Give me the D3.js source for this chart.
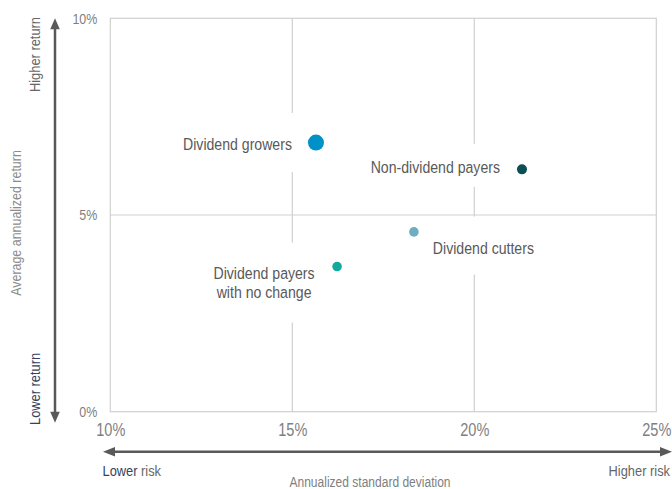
<!DOCTYPE html>
<html>
<head>
<meta charset="utf-8">
<script src="https://cdn.jsdelivr.net/npm/d3@7"></script>
<style>
  html, body { margin: 0; padding: 0; background: #fff; }
  svg { display: block; }
  text { font-family: "Liberation Sans", Arial, sans-serif; }
</style>
</head>
<body>
<svg id="chart" width="672" height="489"></svg>
<script>
// ---- data ----
const categories = ["Dividend growers", "Non-dividend payers", "Dividend cutters", "Dividend payers with no change"];
const riskValues = [15.65, 21.31, 18.34, 16.23];   // annualized standard deviation (%)
const returnValues = [6.84, 6.16, 4.57, 3.69];     // average annualized return (%)
const xTicks = [10, 15, 20, 25];
const yTicks = [0, 5, 10];
const xTickLabels = ["10%", "15%", "20%", "25%"];
const yTickLabels = ["0%", "5%", "10%"];

// ---- style ----
const pointColors = ["#0091c8", "#0b4e54", "#6eaec0", "#14a99c"];
const pointRadii = [8, 5, 4.8, 4.8];
// label layout: anchor, offset from point, line list, background padding
const labelLayout = [
  { anchor: "end",    dx: -24, dy: 1.5,  lines: ["Dividend growers"], padT: 22, padB: 18 },
  { anchor: "end",    dx: -22, dy: -2.5, lines: ["Non-dividend payers"], padT: 14, padB: 10 },
  { anchor: "start",  dx: 19,  dy: 15.7, lines: ["Dividend cutters"], padT: 22, padB: 17 },
  { anchor: "middle", dx: -73, dy: 7,    lines: ["Dividend payers", "with no change"], padT: 22, padB: 20 }
];
const F = 0.83; // horizontal condensing to emulate a narrow typeface

// condense a text horizontally around its anchor x (works inside any existing transform)
function condense(sel) {
  sel.each(function () {
    const first = this.querySelector("tspan[x]");
    const ax = +(this.getAttribute("x") || (first ? first.getAttribute("x") : 0) || 0);
    const prev = this.getAttribute("transform") || "";
    this.setAttribute("transform", `${prev} translate(${ax * (1 - F)},0) scale(${F},1)`.trim());
    this.__ax = ax;
  });
}

const W = 672, H = 489;
const margin = { left: 110.3, right: 15.7, top: 18.3, bottom: 77.3 };
const svg = d3.select("#chart");

const x = d3.scaleLinear().domain([10, 25]).range([margin.left, W - margin.right]);
const y = d3.scaleLinear().domain([0, 10]).range([H - margin.bottom, margin.top]);

const gridColor = "#d0d0d0";

// plot border
svg.append("rect")
  .attr("x", x(10)).attr("y", y(10))
  .attr("width", x(25) - x(10)).attr("height", y(0) - y(10))
  .attr("fill", "none").attr("stroke", gridColor).attr("stroke-width", 1.2);

// grid lines
svg.append("g").selectAll("line.v").data(xTicks.slice(1, -1)).join("line")
  .attr("x1", d => x(d)).attr("x2", d => x(d))
  .attr("y1", y(10)).attr("y2", y(0))
  .attr("stroke", gridColor).attr("stroke-width", 1.2);
svg.append("g").selectAll("line.h").data(yTicks.slice(1, -1)).join("line")
  .attr("x1", x(10)).attr("x2", x(25))
  .attr("y1", d => y(d)).attr("y2", d => y(d))
  .attr("stroke", gridColor).attr("stroke-width", 1.2);

// axes (tick labels only)
const yAxis = svg.append("g").attr("transform", `translate(${x(10)},0)`)
  .call(d3.axisLeft(y).tickValues(yTicks).tickFormat((d, i) => yTickLabels[i]).tickSize(0).tickPadding(13));
yAxis.select(".domain").remove();
yAxis.selectAll("text").attr("fill", "#7f7f7f").style("font-size", "15px").call(condense);

const xAxis = svg.append("g").attr("transform", `translate(0,${y(0)})`)
  .call(d3.axisBottom(x).tickValues(xTicks).tickFormat((d, i) => xTickLabels[i]).tickSize(0).tickPadding(12));
xAxis.select(".domain").remove();
xAxis.selectAll("text").attr("fill", "#7f7f7f").style("font-size", "17.5px").call(condense);

// labels with white background boxes
const fontSize = 17, lineH = 19;
const labelsG = svg.append("g");
categories.forEach((c, i) => {
  const L = labelLayout[i];
  const px = x(riskValues[i]), py = y(returnValues[i]);
  const g = labelsG.append("g");
  const rect = g.append("rect").attr("fill", "#fff");
  const t = g.append("text")
    .attr("text-anchor", L.anchor)
    .attr("fill", "#595959")
    .style("font-size", fontSize + "px");
  L.lines.forEach((ln, k) => {
    t.append("tspan")
      .attr("x", px + L.dx)
      .attr("y", py + L.dy + k * lineH)
      .attr("dy", "0.35em")
      .text(ln);
  });
  const bb = t.node().getBBox();   // before condensing (local coords)
  condense(t);
  const ax = px + L.dx;
  const bx = ax + (bb.x - ax) * F, bw = bb.width * F;
  rect.attr("x", bx - 6).attr("y", bb.y - L.padT)
    .attr("width", bw + 12).attr("height", bb.height + L.padT + L.padB);
});

// points
svg.append("g").selectAll("circle").data(categories).join("circle")
  .attr("cx", (d, i) => x(riskValues[i]))
  .attr("cy", (d, i) => y(returnValues[i]))
  .attr("r", (d, i) => pointRadii[i])
  .attr("fill", (d, i) => pointColors[i]);

// ---- direction arrows ----
const arrowColor = "#595959";
// vertical
const ax = 55, ayTop = y(10), ayBot = y(0) + 11;
svg.append("line").attr("x1", ax).attr("x2", ax).attr("y1", ayTop + 6).attr("y2", ayBot - 6)
  .attr("stroke", arrowColor).attr("stroke-width", 2.5);
svg.append("path").attr("d", `M${ax},${ayTop} L${ax - 4.8},${ayTop + 11} L${ax + 4.8},${ayTop + 11} Z`).attr("fill", arrowColor);
svg.append("path").attr("d", `M${ax},${ayBot} L${ax - 4.8},${ayBot - 11} L${ax + 4.8},${ayBot - 11} Z`).attr("fill", arrowColor);
// horizontal
const hy = 451.7, hxL = 103, hxR = 672;
svg.append("line").attr("x1", hxL + 6).attr("x2", hxR - 6).attr("y1", hy).attr("y2", hy)
  .attr("stroke", arrowColor).attr("stroke-width", 2.5);
svg.append("path").attr("d", `M${hxL},${hy} L${hxL + 12},${hy - 4.8} L${hxL + 12},${hy + 4.8} Z`).attr("fill", arrowColor);
svg.append("path").attr("d", `M${hxR},${hy} L${hxR - 12},${hy - 4.8} L${hxR - 12},${hy + 4.8} Z`).attr("fill", arrowColor);

// ---- axis titles ----
const navy = "#34435e";
const titles = svg.append("g");
titles.append("text").attr("transform", `translate(40,17) rotate(-90)`)
  .attr("text-anchor", "end").attr("fill", "#666").style("font-size", "15.5px").text("Higher return");
titles.append("text").attr("transform", `translate(40,425) rotate(-90)`)
  .attr("text-anchor", "start").attr("fill", navy).style("font-size", "15.5px").text("Lower return");
titles.append("text").attr("transform", `translate(20.5,223) rotate(-90)`)
  .attr("text-anchor", "middle").attr("fill", "#8c8c8c").style("font-size", "15px").text("Average annualized return");

const lowerTxt = titles.append("text").attr("x", 102.5).attr("y", 476).attr("fill", navy)
  .style("font-size", "15.5px").text("Lower");
const lowerW = lowerTxt.node().getComputedTextLength() * F;
titles.append("text").attr("x", 102.5 + lowerW + 3.5).attr("y", 476).attr("fill", "#666")
  .style("font-size", "15.5px").text("risk");
titles.append("text").attr("x", 670).attr("y", 476).attr("text-anchor", "end").attr("fill", "#666")
  .style("font-size", "15.5px").text("Higher risk");
titles.append("text").attr("x", 370).attr("y", 487).attr("text-anchor", "middle").attr("fill", "#7f7f7f")
  .style("font-size", "14.5px").text("Annualized standard deviation");
titles.selectAll("text").call(condense);
</script>
</body>
</html>
